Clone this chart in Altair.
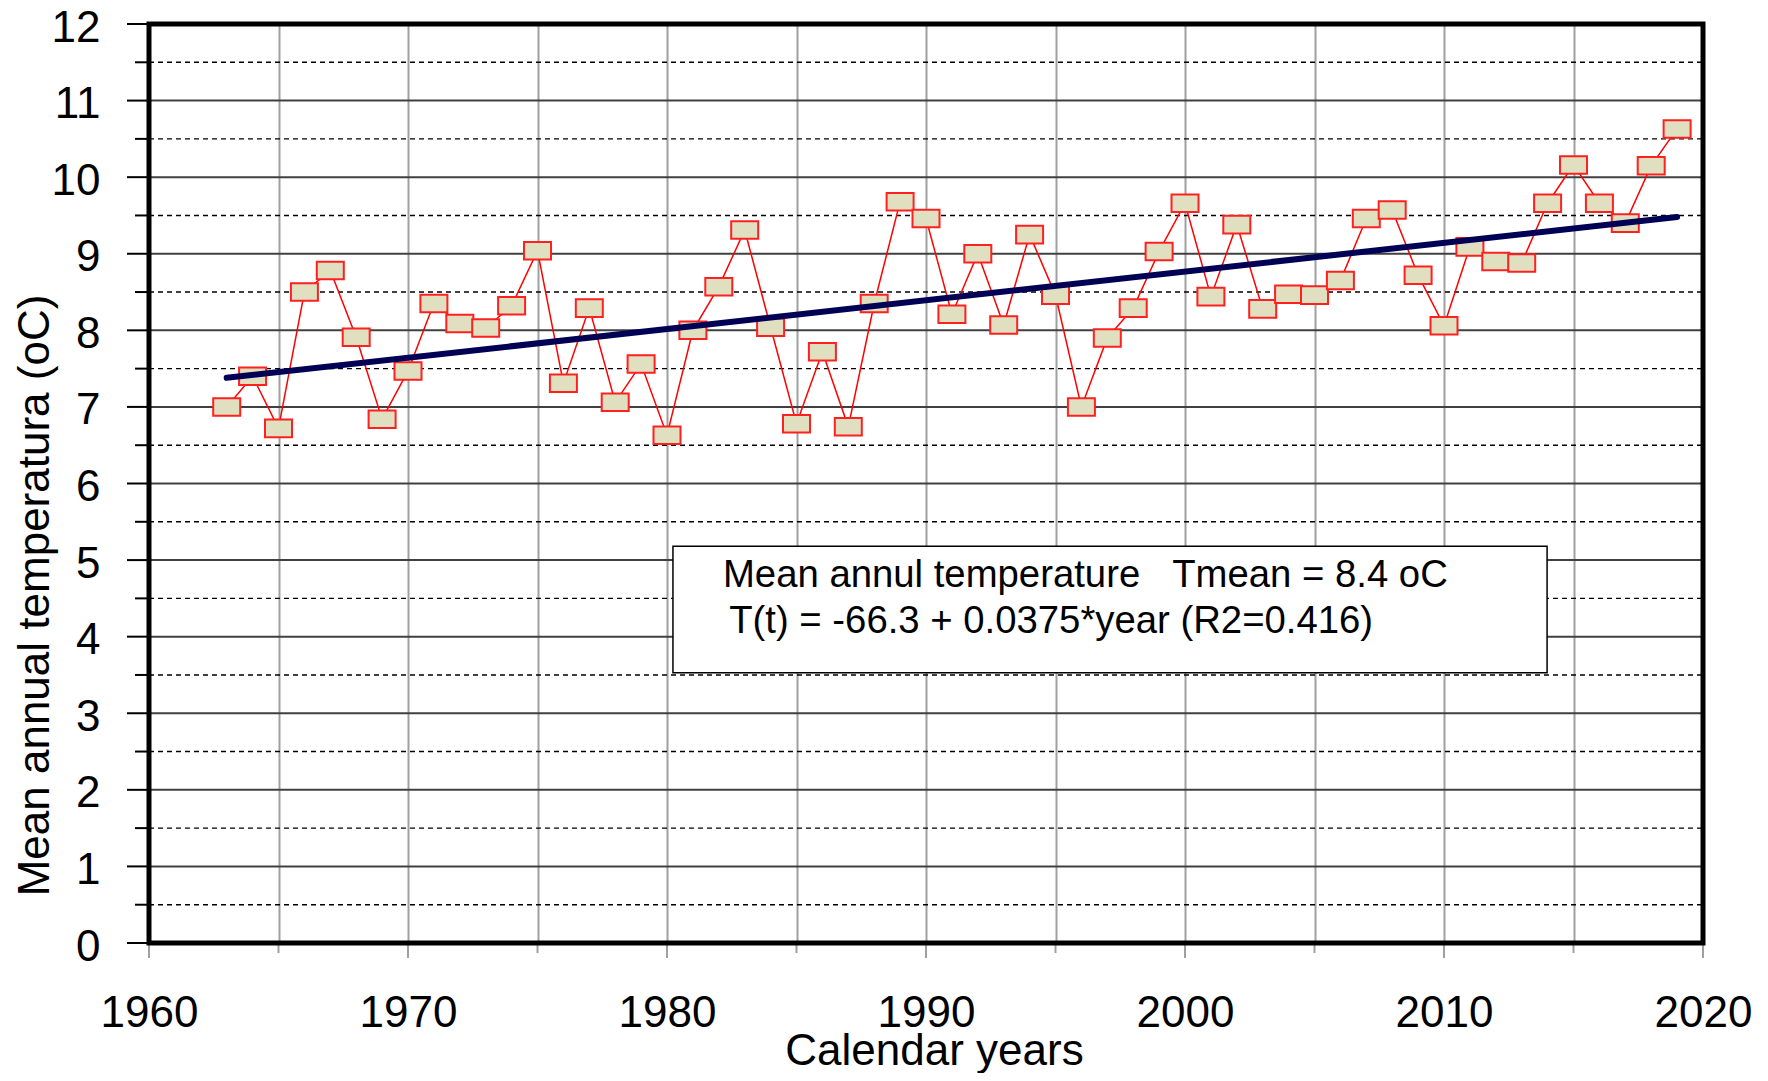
import altair as alt
import pandas as pd

# ---- data ----
years = list(range(1963, 2020))
temps = [7.0, 7.4, 6.72, 8.5, 8.78, 7.91, 6.84, 7.47, 8.35, 8.09,
         8.03, 8.32, 9.04, 7.31, 8.29, 7.06, 7.56, 6.63, 8.0, 8.57,
         9.31, 8.04, 6.78, 7.72, 6.74, 8.35, 9.68, 9.46, 8.21, 9.0,
         8.07, 9.25, 8.46, 7.0, 7.9, 8.29, 9.03, 9.66, 8.44, 9.38,
         8.28, 8.47, 8.46, 8.65, 9.46, 9.57, 8.72, 8.06, 9.09, 8.9,
         8.88, 9.66, 10.16, 9.66, 9.4, 10.15, 10.63]

trend_years = [1963, 2019]
trend_values = [7.38, 9.48]

x_grid = [1960, 1965, 1970, 1975, 1980, 1985, 1990, 1995, 2000, 2005, 2010, 2015, 2020]
x_major = [1960, 1970, 1980, 1990, 2000, 2010, 2020]
x_minor = [1965, 1975, 1985, 1995, 2005, 2015]
y_major = list(range(13))
y_minor = [i + 0.5 for i in range(12)]

# annotation box (data coordinates) and its text
box_x, box_x2 = [1980.23], [2013.98]
box_y, box_y2 = [5.18], [3.53]
NB = "\u00a0"
note_lines = ["Mean annul temperature" + NB * 3 + "Tmean = 8.4 oC",
              "T(t) = -66.3 + 0.0375*year (R2=0.416)"]
note_x = [1982.16, 1982.40]
note_y = [4.65, 4.05]

FONT = "Liberation Sans"
W, H = 1554, 919

df = pd.DataFrame({"year": years, "temp": temps})
trend_df = pd.DataFrame({"year": trend_years, "temp": trend_values})

xscale = alt.Scale(domain=[1960, 2020], nice=False, zero=False)
yscale = alt.Scale(domain=[0, 12], nice=False, zero=True)

x_axis = alt.Axis(
    values=x_grid, format="d", title="Calendar years",
    labelExpr="datum.value % 10 === 0 ? datum.label : ''",
    labelFont=FONT, labelFontSize=44, labelColor="black",
    labelPadding=48, labelFlush=False, labelOverlap=False,
    ticks=False, domain=False,
    grid=True, gridColor="#a0a0a0", gridWidth=2,
    titleFont=FONT, titleFontSize=44, titleFontWeight="normal", titleColor="black",
    titleY=121, titleBaseline="alphabetic", titleX=W / 2 + 8,
)
y_axis = alt.Axis(
    values=y_major, format="d", title="Mean annual temperatura (oC)",
    labelFont=FONT, labelFontSize=44, labelColor="black",
    labelPadding=49, labelOffset=4, labelFlush=False, labelOverlap=False,
    ticks=False, domain=False, grid=False,
    titleFont=FONT, titleFontSize=44, titleFontWeight="normal", titleColor="black",
    titleAngle=270, titleX=-101, titleY=571, titleAlign="center", titleBaseline="alphabetic",
)

base = alt.Chart(df)

# horizontal grid lines
ygrid_major = alt.Chart(pd.DataFrame({"v": y_major})).mark_rule(
    color="#404040", strokeWidth=2).encode(
    y=alt.Y("v:Q", scale=yscale, axis=y_axis), x=alt.value(0), x2=alt.value(W))
ygrid_minor = alt.Chart(pd.DataFrame({"v": y_minor})).mark_rule(
    color="#000000", strokeWidth=1.4, strokeDash=[5, 4]).encode(
    y="v:Q", x=alt.value(0), x2=alt.value(W))

line = base.mark_line(color="#ff0000", strokeWidth=1.5).encode(
    x=alt.X("year:Q", scale=xscale, axis=x_axis),
    y=alt.Y("temp:Q"),
)

rect_shape = "M-1,-0.65L1,-0.65L1,0.65L-1,0.65Z"
points = base.mark_point(
    shape=rect_shape, size=729, filled=True, fill="#e0dfc0", stroke="#ff2020",
    strokeWidth=2, opacity=1,
).encode(x="year:Q", y="temp:Q")

trend = alt.Chart(trend_df).mark_line(color="#000055", strokeWidth=6, strokeCap="round").encode(
    x="year:Q", y="temp:Q")

# tick marks outside the plot
ymaj = alt.Chart(pd.DataFrame({"v": y_major})).mark_rule(color="black", strokeWidth=2).encode(
    y="v:Q", x=alt.value(-22), x2=alt.value(0))
ymin = alt.Chart(pd.DataFrame({"v": y_minor})).mark_rule(color="black", strokeWidth=2).encode(
    y="v:Q", x=alt.value(-14), x2=alt.value(0))
xmaj = alt.Chart(pd.DataFrame({"v": x_major})).mark_rule(color="#a0a0a0", strokeWidth=2).encode(
    x="v:Q", y=alt.value(H), y2=alt.value(H + 15))
xmin = alt.Chart(pd.DataFrame({"v": x_minor})).mark_rule(color="#a0a0a0", strokeWidth=2).encode(
    x="v:Q", y=alt.value(H), y2=alt.value(H + 10))

box = alt.Chart(pd.DataFrame({"x": box_x, "x2": box_x2, "y": box_y, "y2": box_y2})).mark_rect(
    fill="white", stroke="black", strokeWidth=1.5).encode(x="x:Q", x2="x2:Q", y="y:Q", y2="y2:Q")

notes = alt.Chart(pd.DataFrame({"t": note_lines, "x": note_x, "y": note_y})).mark_text(
    font=FONT, fontSize=38.3, align="left", baseline="alphabetic", color="black").encode(
    x="x:Q", y="y:Q", text="t:N")

frame = alt.Chart(pd.DataFrame({"k": [0]})).mark_rect(
    fill="transparent", stroke="black", strokeWidth=5).encode(
    x=alt.value(0), x2=alt.value(W), y=alt.value(0), y2=alt.value(H))

chart = alt.layer(ygrid_major, ygrid_minor, ymaj, ymin, xmaj, xmin, line, points, trend,
                  box, notes, frame).properties(
    width=W, height=H,
    padding={"left": 141, "top": 16, "right": 55, "bottom": 130},
    autosize=alt.AutoSizeParams(type="none"),
).configure_view(
    stroke=None,
).configure(background="white")

chart.save("out.html", embed_options={"renderer": "svg", "actions": False})
